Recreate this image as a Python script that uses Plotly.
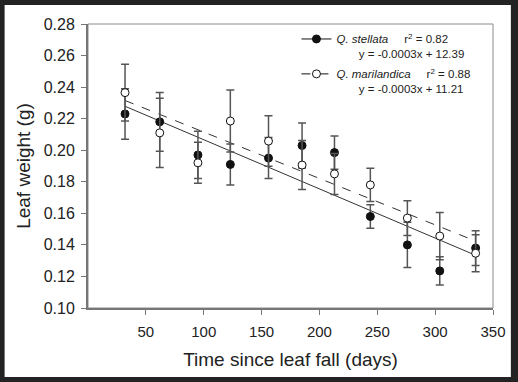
import numpy as np
import plotly.graph_objects as go

# ---- data ----
days = [32, 62, 95, 123, 156, 185, 213, 244, 276, 304, 335]
stellata = [0.223, 0.218, 0.197, 0.191, 0.195, 0.203, 0.1985, 0.158, 0.140, 0.1235, 0.138]
stellata_err = [0.016, 0.0186, 0.015, 0.013, 0.013, 0.0143, 0.0105, 0.0075, 0.0143, 0.009, 0.011]
marilandica = [0.2365, 0.211, 0.192, 0.2185, 0.2058, 0.1906, 0.185, 0.178, 0.157, 0.1456, 0.1347]
marilandica_err = [0.018, 0.022, 0.013, 0.0197, 0.016, 0.0155, 0.013, 0.0105, 0.011, 0.015, 0.0118]

species = ["Q. stellata", "Q. marilandica"]
r2_values = ["0.82", "0.88"]
equations = ["y = -0.0003x + 12.39", "y = -0.0003x + 11.21"]

x_ticks = [50, 100, 150, 200, 250, 300, 350]
y_ticks = [0.10, 0.12, 0.14, 0.16, 0.18, 0.20, 0.22, 0.24, 0.26, 0.28]

FONT = "Liberation Sans, Arial, Helvetica, sans-serif"
W, H = 518, 382
ML, MR, MT, MB = 88, 22, 24, 74

fig = go.Figure()

# regression lines (least squares on the plotted data)
xs = np.array([days[0], days[-1]], dtype=float)
for vals, dash in [(stellata, "solid"), (marilandica, "dash")]:
    k, b = np.polyfit(days, vals, 1)
    fig.add_trace(go.Scatter(x=xs, y=k * xs + b, mode="lines",
                             line=dict(color="#333333", width=1, dash=dash),
                             showlegend=False, hoverinfo="skip"))

# data points with error bars
fig.add_trace(go.Scatter(
    x=days, y=stellata, mode="markers", showlegend=False,
    marker=dict(symbol="circle", size=8, color="#111111", line=dict(color="#111111", width=1)),
    error_y=dict(type="data", array=stellata_err, visible=True, color="#555555", thickness=1.5, width=4)))
fig.add_trace(go.Scatter(
    x=days, y=marilandica, mode="markers", showlegend=False,
    marker=dict(symbol="circle", size=8, color="white", line=dict(color="#111111", width=1)),
    error_y=dict(type="data", array=marilandica_err, visible=True, color="#555555", thickness=1.5, width=4)))

# legend-only entries
nb = "\u00a0"
for i, (sp, r2, eq) in enumerate(zip(species, r2_values, equations)):
    name = f"<i>{sp}</i>{nb*5}r<sup>2</sup> = {r2}<br>{nb*7}{eq}"
    fig.add_trace(go.Scatter(
        x=[None], y=[None], mode="lines+markers", name=name,
        line=dict(color="#111111", width=1, dash="solid" if i == 0 else "dash"),
        marker=dict(size=8, color="#111111" if i == 0 else "white",
                    line=dict(color="#111111", width=1)),
        legendgroup=sp))

pw, ph = W - ML - MR, H - MT - MB
def px_x(p):
    return (p - ML) / pw
def px_y(p):
    return (H - MB - p) / ph

shapes = [
    # white card inside the dark frame
    dict(type="rect", xref="paper", yref="paper", layer="below",
         x0=px_x(4), x1=px_x(514), y0=px_y(377), y1=px_y(5),
         fillcolor="white", line=dict(width=0)),
    # thin box around plot area
    dict(type="rect", xref="paper", yref="paper", layer="below",
         x0=0, x1=1, y0=0, y1=1, line=dict(color="#8a8a8a", width=1)),
]

fig.update_layout(
    width=W, height=H,
    margin=dict(l=ML, r=MR, t=MT, b=MB, pad=0),
    paper_bgcolor="#232323", plot_bgcolor="white",
    font=dict(family=FONT, color="#222222"),
    shapes=shapes,
    showlegend=True,
    legend=dict(x=px_x(298), y=px_y(25), xanchor="left", yanchor="top",
                bgcolor="rgba(0,0,0,0)", borderwidth=0, valign="top",
                font=dict(family=FONT, size=11.5, color="#222222"),
                tracegroupgap=2, itemwidth=30),
    xaxis=dict(range=[0, 350], tickvals=x_ticks, ticks="outside", ticklen=5,
               tickcolor="#777777", showline=True, linecolor="#777777", linewidth=2,
               showgrid=False, zeroline=False, ticklabelstandoff=4,
               tickfont=dict(family=FONT, size=15, color="#222222"),
               title=dict(text="Time since leaf fall (days)", standoff=14,
                          font=dict(family=FONT, size=19, color="#222222"))),
    yaxis=dict(range=[0.10, 0.28], tickvals=y_ticks, tickformat=".2f", ticks="outside",
               ticklen=5, tickcolor="#777777", showline=True, linecolor="#777777", linewidth=2,
               showgrid=False, zeroline=False, ticklabelstandoff=3,
               tickfont=dict(family=FONT, size=16, color="#222222"),
               title=dict(text="Leaf weight (g)", standoff=8,
                          font=dict(family=FONT, size=19, color="#222222"))),
)

fig.write_html("out.html", config={"displayModeBar": False},
               post_script="document.body.style.margin='0';document.body.style.overflow='hidden';")
